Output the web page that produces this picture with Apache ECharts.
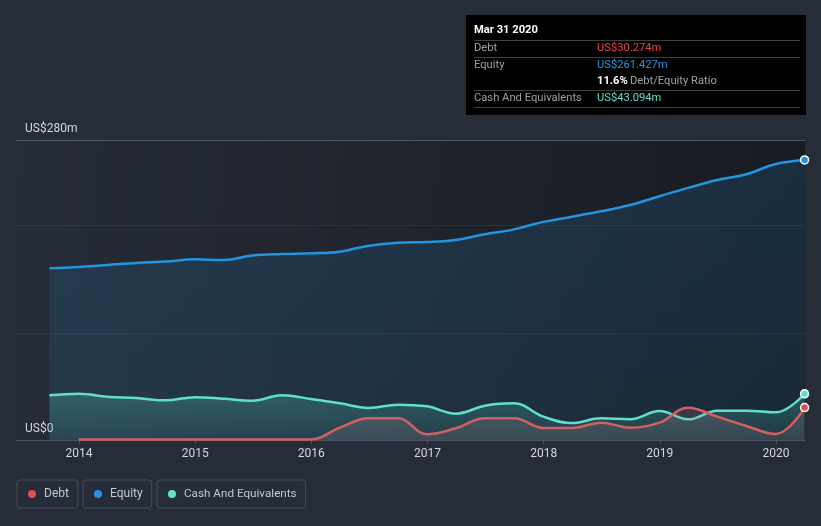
<!DOCTYPE html>
<html>
<head>
<meta charset="utf-8">
<script src="https://cdn.jsdelivr.net/npm/echarts@6/dist/echarts.min.js"></script>
<style>
html,body{margin:0;padding:0;background:#262c38;}
#chart{width:821px;height:526px;}
</style>
</head>
<body>
<div id="chart"></div>
<script>
const quarters = ['2013-09-30','2013-12-31','2014-03-31','2014-06-30','2014-09-30','2014-12-31',
  '2015-03-31','2015-06-30','2015-09-30','2015-12-31','2016-03-31','2016-06-30','2016-09-30','2016-12-31',
  '2017-03-31','2017-06-30','2017-09-30','2017-12-31','2018-03-31','2018-06-30','2018-09-30','2018-12-31',
  '2019-03-31','2019-06-30','2019-09-30','2019-12-31','2020-03-31'];
const equity = [160.2,161.5,163.3,165.3,166.5,168.6,168.0,172.2,173.6,174.3,175.8,181.4,184.2,184.8,
  186.7,192.0,196.6,203.6,208.4,213.5,219.3,227.5,235.3,242.6,248.0,257.6,261.427];
const cash = [41.7,43.2,40.4,39.2,37.0,39.9,38.5,36.7,41.7,38.3,34.2,29.9,33.0,31.4,
  24.6,32.0,34.2,21.8,15.8,20.2,19.3,27.0,19.3,27.4,27.4,25.8,43.094];
const debt = [null,0.5,0.5,0.5,0.5,0.5,0.5,0.5,0.5,0.5,11.5,20.2,20.2,5.3,
  10.9,20.2,20.2,11.2,11.2,16.2,11.5,16.2,30.2,21.8,13.0,5.6,30.274];
const yearTicks = [2014,2015,2016,2017,2018,2019,2020];
const yTickLabels = [0,280];

function toYear(s){
  const d = new Date(s+'T00:00:00Z');
  const y = d.getUTCFullYear();
  const a = Date.UTC(y,0,1), b = Date.UTC(y+1,0,1);
  return y + (d.getTime()-a)/(b-a);
}
function build(vals, col){
  const out = [];
  vals.forEach((v,i)=>{
    if (v === null) return;
    const item = {value:[toYear(quarters[i]), v]};
    if (i === vals.length-1){
      item.symbol = 'circle';
      item.symbolSize = 8;
      item.itemStyle = {color: col, borderColor:'#ffffff', borderWidth:1.5};
    }
    out.push(item);
  });
  return out;
}
const C_DEBT = '#e64b4b', C_EQ = '#2394df', C_CASH = '#5fe0cd';
const last = quarters.length-1;
const months = ['Jan','Feb','Mar','Apr','May','Jun','Jul','Aug','Sep','Oct','Nov','Dec'];
const ld = new Date(quarters[last]+'T00:00:00Z');
const title = months[ld.getUTCMonth()]+' '+ld.getUTCDate()+' '+ld.getUTCFullYear();
const fmt = v => 'US$'+v.toFixed(3)+'m';
const ratio = (debt[last]/equity[last]*100).toFixed(1)+'%';

const chart = echarts.init(document.getElementById('chart'), null, {renderer:'canvas'});
const FONT = 'Roboto';
function legendBox(name, left, fs){
  return {
    data:[name], left:left, top:480, orient:'horizontal',
    icon:'circle', itemWidth:8, itemHeight:8,
    padding:[8,9,8,11], borderColor:'#474e5c', borderWidth:1, borderRadius:3,
    textStyle:{color:'#c4c8cf', fontSize:fs, fontFamily:FONT, padding:[0,0,0,3]},
    selectedMode:false
  };
}
function lineSeries(name, vals, lineCol, itemCol, area, z){
  return {
    name:name, type:'line', data:build(vals, itemCol), smooth:0.4,
    symbol:'none', showSymbol:true, z:z,
    lineStyle:{color:lineCol, width:2.5},
    itemStyle:{color:itemCol},
    areaStyle:area, emphasis:{disabled:true}
  };
}
const sepLines = [40,57,90,107].map(y=>({type:'line', shape:{x1:474,y1:y+0.5,x2:800,y2:y+0.5}, style:{stroke:'#3f3f3f', lineWidth:1}}));
const txt = (x,y,t,fill,bold)=>({type:'text', x:x, y:y, style:{text:t, fill:fill, font:(bold?'bold ':'')+'11.2px '+FONT, verticalAlign:'middle', align:'left'}});

chart.setOption({
  backgroundColor:'#262c38',
  animation:false,
  grid:{left:16, right:16, top:140, bottom:86, show:true, borderWidth:0,
    backgroundColor:{type:'linear', x:0, y:0, x2:1, y2:0.3, colorStops:[{offset:0,color:'#262c38'},{offset:1,color:'#181b21'}]}},
  legend:[legendBox('Debt',17,12), legendBox('Equity',83,12), legendBox('Cash And Equivalents',157,11.7)],
  xAxis:[{
    type:'value', min:2013.4577, max:2020.2496,
    axisLine:{show:true, onZero:false, lineStyle:{color:'#4a5260', width:1}},
    axisTick:{show:true, customValues:yearTicks, length:4, lineStyle:{color:'#4a5260'}},
    axisLabel:{customValues:yearTicks, color:'#d4d7dc', fontSize:12, fontFamily:FONT, margin:8, formatter:v=>String(v)},
    splitLine:{show:false}
  },{
    type:'value', position:'top', min:2013.4577, max:2020.2496,
    axisLine:{show:true, onZero:false, lineStyle:{color:'#4f5766', width:1}},
    axisTick:{show:false}, axisLabel:{show:false}, splitLine:{show:false}
  }],
  yAxis:{
    type:'value', min:0, max:280, interval:100,
    axisLine:{show:false}, axisTick:{show:false},
    axisLabel:{inside:true, customValues:yTickLabels, margin:9, color:'#d4d7dc', fontSize:12, fontFamily:FONT,
      verticalAlign:'bottom', padding:[0,0,5,0], formatter:v=>'US$'+v+(v===0?'':'m')},
    splitLine:{show:true, lineStyle:{color:'rgba(255,255,255,0.07)', width:1}}
  },
  series:[
    lineSeries('Equity', equity, C_EQ, C_EQ,
      {color:{type:'linear',x:0,y:0,x2:0,y2:1,colorStops:[{offset:0,color:'rgba(35,148,223,0.22)'},{offset:1,color:'rgba(35,148,223,0.16)'}]}}, 2),
    lineSeries('Cash And Equivalents', cash, C_CASH, C_CASH,
      {color:{type:'linear',x:0,y:0,x2:0,y2:1,colorStops:[{offset:0,color:'rgba(95,224,205,0.34)'},{offset:1,color:'rgba(95,224,205,0.12)'}]}}, 3),
    lineSeries('Debt', debt, '#d45f60', C_DEBT,
      {color:{type:'linear',x:0,y:0,x2:0,y2:1,colorStops:[{offset:0,color:'rgba(200,110,115,0.28)'},{offset:1,color:'rgba(190,170,175,0.18)'}]}}, 4)
  ],
  graphic:[{
    type:'group', children:[
      {type:'rect', shape:{x:466,y:15,width:340,height:100}, style:{fill:'#000000'}},
      ...sepLines,
      txt(474,30,title,'#ffffff',true),
      txt(474,48,'Debt','#9ba0a8',false),
      txt(597,48,fmt(debt[last]),'#ef4348',false),
      txt(474,65,'Equity','#9ba0a8',false),
      txt(597,65,fmt(equity[last]),C_EQ,false),
      txt(597,81,ratio,'#ffffff',true),
      txt(630,81,'Debt/Equity Ratio','#9ba0a8',false),
      txt(474,98,'Cash And Equivalents','#9ba0a8',false),
      txt(597,98,fmt(cash[last]),C_CASH,false)
    ]
  }]
});
</script>
</body>
</html>
